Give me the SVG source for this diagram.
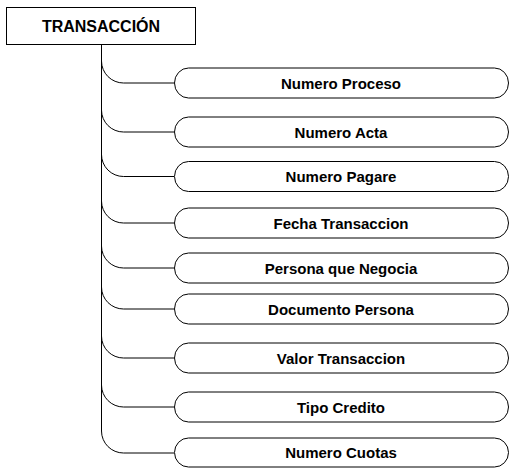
<svg xmlns="http://www.w3.org/2000/svg" width="510" height="468" viewBox="0 0 510 468">
<style>
.box{fill:#fff;stroke:#000;stroke-width:1}
.cap{fill:#fff;stroke:#000;stroke-width:1}
.ln{fill:none;stroke:#000;stroke-width:1}
.t{font-family:"Liberation Sans",Arial,sans-serif;font-weight:bold;font-size:15px;fill:#000;text-anchor:middle}
.th{font-size:16px}
</style>
<rect width="510" height="468" fill="#fff"/>
<g id="connectors">
<path class="ln" d="M101.5,45 V431"/>
<path class="ln" d="M101.5,61 A22,22 0 0 0 123.5,83 H174"/>
<path class="ln" d="M101.5,110 A22,22 0 0 0 123.5,132 H174"/>
<path class="ln" d="M101.5,154.5 A22,22 0 0 0 123.5,176.5 H174"/>
<path class="ln" d="M101.5,201 A22,22 0 0 0 123.5,223 H174"/>
<path class="ln" d="M101.5,246 A22,22 0 0 0 123.5,268 H174"/>
<path class="ln" d="M101.5,287 A22,22 0 0 0 123.5,309 H174"/>
<path class="ln" d="M101.5,336 A22,22 0 0 0 123.5,358 H174"/>
<path class="ln" d="M101.5,385 A22,22 0 0 0 123.5,407 H174"/>
<path class="ln" d="M101.5,431 A22,22 0 0 0 123.5,453 H174"/>
</g>
<g id="transaccion">
<rect class="box" x="6.5" y="7.5" width="189" height="37"/>
<text class="t th" x="101" y="32">TRANSACCIÓN</text>
</g>
<g id="numero-proceso">
<rect class="cap" x="174.5" y="68" width="334" height="30" rx="14" ry="15"/>
<text class="t" x="341" y="88.5">Numero Proceso</text>
</g>
<g id="numero-acta">
<rect class="cap" x="174.5" y="117" width="334" height="30" rx="14" ry="15"/>
<text class="t" x="341" y="137.5">Numero Acta</text>
</g>
<g id="numero-pagare">
<rect class="cap" x="174.5" y="161.5" width="334" height="30" rx="14" ry="15"/>
<text class="t" x="341" y="182">Numero Pagare</text>
</g>
<g id="fecha-transaccion">
<rect class="cap" x="174.5" y="208" width="334" height="30" rx="14" ry="15"/>
<text class="t" x="341" y="228.5">Fecha Transaccion</text>
</g>
<g id="persona-que-negocia">
<rect class="cap" x="174.5" y="253" width="334" height="30" rx="14" ry="15"/>
<text class="t" x="341" y="273.5">Persona que Negocia</text>
</g>
<g id="documento-persona">
<rect class="cap" x="174.5" y="294" width="334" height="30" rx="14" ry="15"/>
<text class="t" x="341" y="314.5">Documento Persona</text>
</g>
<g id="valor-transaccion">
<rect class="cap" x="174.5" y="343" width="334" height="30" rx="14" ry="15"/>
<text class="t" x="341" y="363.5">Valor Transaccion</text>
</g>
<g id="tipo-credito">
<rect class="cap" x="174.5" y="392" width="334" height="30" rx="14" ry="15"/>
<text class="t" x="341" y="412.5">Tipo Credito</text>
</g>
<g id="numero-cuotas">
<rect class="cap" x="174.5" y="438" width="334" height="29" rx="14" ry="14.5"/>
<text class="t" x="341" y="458">Numero Cuotas</text>
</g>
</svg>
